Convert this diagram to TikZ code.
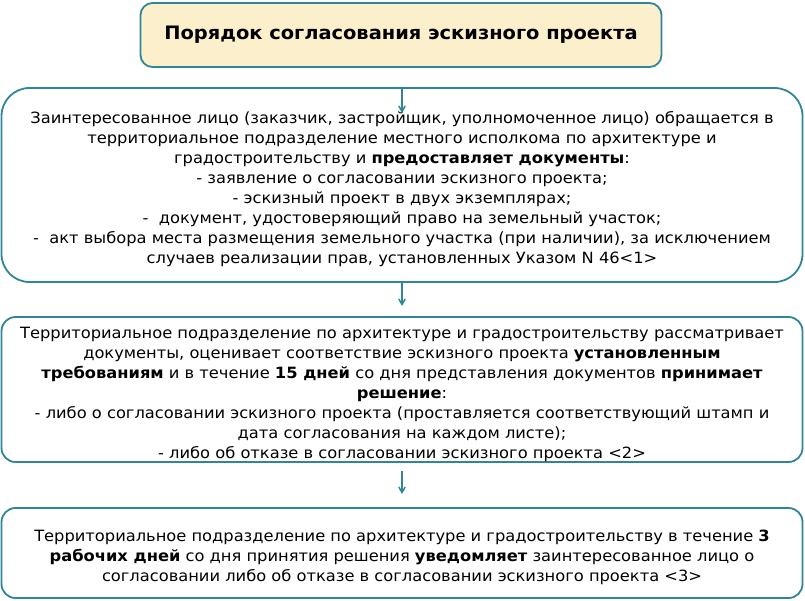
\documentclass[tikz,border=0pt]{standalone}
\usepackage{fontspec}
\setmainfont[FakeStretch=1.05]{DejaVu Sans}
\usetikzlibrary{arrows,positioning}
\definecolor{tealline}{RGB}{49,133,155}
\definecolor{titlefill}{RGB}{252,239,203}
\newcommand{\topgap}{\rule{0pt}{20.5pt}}

\begin{document}
\begin{tikzpicture}[x=1pt,y=-1pt]
                    \tikzstyle{every node}+=[inner sep=0pt]
                    \tikzstyle{stage}=[draw=tealline, line width=1.8pt, fill=white, align=center, minimum width=801pt, font=\fontsize{15.5}{20}\selectfont]
                    \tikzstyle{heading}=[stage, fill=titlefill, rounded corners=12pt, minimum width=521pt, minimum height=64pt, font=\fontsize{18.5}{20}\selectfont\bfseries]
                    \tikzstyle{flow}=[draw=tealline, line width=1.5pt, ->, >=angle 60]
                    \useasboundingbox (0,0) rectangle (805,600);
                    % heading
                    \node [heading] (title) at (401,35) {Порядок согласования эскизного проекта};
                    % step 1: documents
                    \node [stage, rounded corners=28pt, minimum height=194pt] (docs) at (402,185) {\topgap Заинтересованное лицо (заказчик, застройщик, уполномоченное лицо) обращается в\\
                        территориальное подразделение местного исполкома по архитектуре и\\
                        градостроительству и \textbf{предоставляет документы}:\\
                        - заявление о согласовании эскизного проекта;\\
                        - эскизный проект в двух экземплярах;\\
                        -\ \ документ, удостоверяющий право на земельный участок;\\
                        -\ \ акт выбора места размещения земельного участка (при наличии), за исключением\\
                        случаев реализации прав, установленных Указом N 46<1>};
                    % step 2: review
                    \node [stage, rounded corners=14pt, minimum height=145pt] (check) at (402,389.5) {\topgap Территориальное подразделение по архитектуре и градостроительству рассматривает\\
                        документы, оценивает соответствие эскизного проекта \textbf{установленным}\\
                        \textbf{требованиям} и в течение \textbf{15 дней} со дня представления документов \textbf{принимает}\\
                        \textbf{решение}:\\
                        - либо о согласовании эскизного проекта (проставляется соответствующий штамп и\\
                        дата согласования на каждом листе);\\
                        - либо об отказе в согласовании эскизного проекта <2>};
                    % step 3: notice
                    \node [stage, rounded corners=14pt, minimum height=90pt] (notice) at (402,553) {\topgap Территориальное подразделение по архитектуре и градостроительству в течение \textbf{3}\\
                        \textbf{рабочих дней} со дня принятия решения \textbf{уведомляет} заинтересованное лицо о\\
                        согласовании либо об отказе в согласовании эскизного проекта <3>};
                    % arrows
                    \coordinate (tip1) at (402,113);
                    \coordinate (tip2) at (402,306);
                    \coordinate (tip3) at (402,494);
                    \draw [flow] (docs.north) -- (tip1);
                    \draw [flow] (docs.south) -- (tip2);
                    \draw [flow, shorten <=8pt] (check.south) -- (tip3);
                \end{tikzpicture}
\end{document}
